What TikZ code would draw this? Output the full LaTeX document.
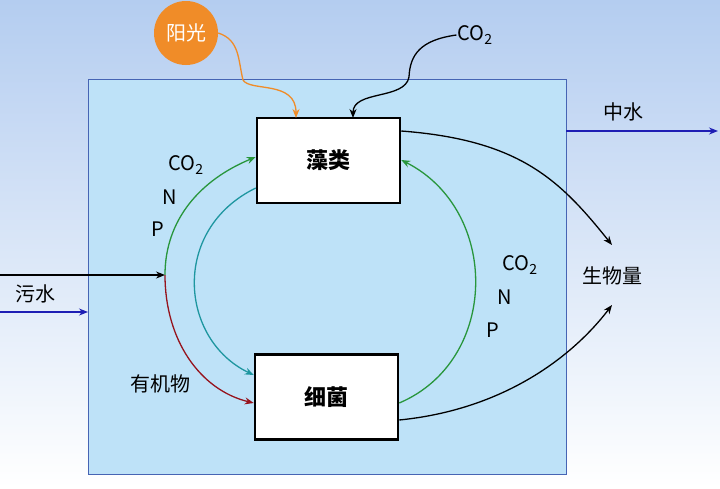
\documentclass[tikz,border=0pt]{standalone}
\usepackage{fontspec}
\setmainfont{Noto Sans CJK SC}
\usepackage{xcolor}
\usetikzlibrary{arrows.meta}
\definecolor{tank}{RGB}{190,226,248}
\definecolor{tankline}{RGB}{70,100,180}
\definecolor{sun}{RGB}{240,140,40}
\definecolor{cyc}{RGB}{40,150,60}
\definecolor{org}{RGB}{150,20,30}
\definecolor{tl}{RGB}{30,150,160}
\definecolor{flow}{RGB}{30,30,180}
\newcommand{\cotwo}{CO\textsubscript{2}}
\tikzset{
  box/.style={draw, line width=2.5pt, fill=white, minimum width=143pt, minimum height=85pt, font=\fontsize{22}{26}\selectfont\bfseries},
  lbl/.style={inner sep=0.75pt, font=\fontsize{20}{24}\selectfont},
  arr/.style={-{Stealth[length=9pt,width=7pt]}, line width=1.3pt}
}
\begin{document}
\begin{tikzpicture}[x=1pt,y=1pt,yscale=-1]
\shade[top color={rgb,255:red,180;green,205;blue,240}, bottom color=white] (0,0) rectangle (720,488);
\useasboundingbox (0,0) rectangle (720,488);

%Tank
\draw [tankline, line width=1pt, fill=tank] (88,79) rectangle (566,474);

% Boxes
\node [box] (algae) at (328.5,160.5) {藻类};
\node [box] (bact) at (326.5,397) {细菌};

% Sun
\node [circle, fill=sun, minimum size=64pt, text=white, font=\fontsize{20}{24}\selectfont] (sun) at (186,33) {阳光};
\draw [arr, sun] (sun.east) .. controls (240,40) and (238,60) .. (243,80) .. controls (250,92) and (296,80) .. (296,118);

% CO2 in
\node [lbl] (co2top) at (475,35) {\cotwo};
\draw [arr, black] (co2top.west) .. controls (420,40) and (410,55) .. (409,77) .. controls (405,100) and (353,90) .. (353,118);

% Outflows
\coordinate (outR) at (566,131);
\coordinate (outE) at (718,131);
\draw [arr, flow] (outR) -- (outE);
\node [lbl] (zs) at (623,112) {中水};

\coordinate (inL) at (0,275);
\coordinate (mix) at (165,275);
\draw [arr, black] (inL) -- (mix);
\coordinate (inB) at (0,312);
\coordinate (inT) at (88,312);
\draw [arr, flow] (inB) -- (inT);
\node [lbl] (ws) at (35,294) {污水};

% Cycle
\draw [arr, cyc] (mix) .. controls (165,220) and (200,180) .. (algae.west |- 0,157);
\draw [arr, org] (mix) .. controls (165,340) and (200,390) .. (bact.west |- 0,403);
\draw [arr, tl] (algae.west |- 0,188) .. controls (170,230) and (180,340) .. (bact.west |- 0,375);
\draw [arr, cyc] (bact.east |- 0,403) .. controls (500,360) and (500,210) .. (algae.east |- 0,160);

% Biomass
\node [lbl] (bio) at (612,276) {生物量};
\draw [arr, black] (algae.east |- 0,131) .. controls (520,140) and (560,180) .. (612,245);
\draw [arr, black] (bact.east |- 0,420) .. controls (500,410) and (570,360) .. (612,305);

% Labels
\node [lbl] at (186,165) {\cotwo};
\node [lbl] at (170,197) {N};
\node [lbl] at (158,229) {P};
\node [lbl] at (520,265) {\cotwo};
\node [lbl] at (505,297) {N};
\node [lbl] at (493,330) {P};
\node [lbl] at (160,384) {有机物};
\end{tikzpicture}
\end{document}
